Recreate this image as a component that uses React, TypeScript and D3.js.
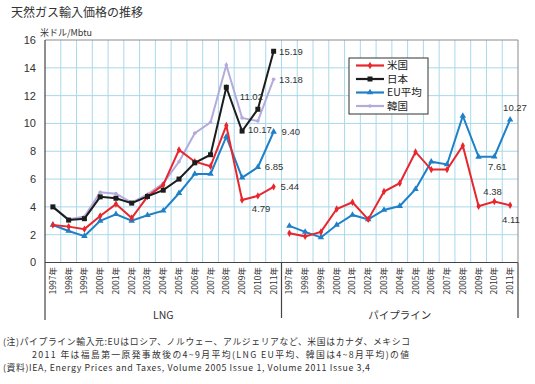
import React from "react";
import * as d3 from "d3";

const years = ["1997","1998","1999","2000","2001","2002","2003","2004","2005","2006","2007","2008","2009","2010","2011"];
const groups = ["LNG", "パイプライン"];
const yTicks = [0, 2, 4, 6, 8, 10, 12, 14, 16];

const lngUS = [2.7, 2.58, 2.4, 3.35, 4.2, 3.2, 4.74, 5.58, 8.1, 7.25, 6.92, 9.85, 4.5, 4.79, 5.44];
const lngJapan = [4.0, 3.05, 3.15, 4.72, 4.62, 4.27, 4.75, 5.2, 6.0, 7.17, 7.75, 12.6, 9.45, 11.02, 15.19];
const lngEU = [2.7, 2.27, 1.9, 3.0, 3.47, 3.0, 3.4, 3.73, 4.98, 6.37, 6.37, 9.05, 6.1, 6.85, 9.40];
const lngKorea = [4.0, 3.1, 3.3, 5.05, 4.95, 4.3, 4.9, 5.7, 7.25, 9.3, 10.08, 14.2, 10.4, 10.17, 13.18];

const pipeUS = [2.1, 1.88, 2.2, 3.85, 4.33, 3.1, 5.1, 5.7, 7.95, 6.68, 6.68, 8.4, 4.05, 4.38, 4.11];
const pipeEU = [2.63, 2.2, 1.8, 2.7, 3.42, 3.1, 3.78, 4.06, 5.27, 7.25, 7.05, 10.54, 7.6, 7.61, 10.27];

const seriesNames = ["米国", "日本", "EU平均", "韓国"];
const seriesColors = ["#e8262d", "#1c1c1c", "#1f80c8", "#b4aadc"];

const W = 535, H = 384;
const left = 45, right = 518, top = 40, bottom = 262.5;

const keys = groups.flatMap((g) => years.map((y) => g + "|" + y));
const x = d3.scaleBand<string>().domain(keys).range([left, right]);
const y = d3.scaleLinear().domain([0, 16]).range([bottom, top]);
const cx = (g: string, yr: string) => (x(g + "|" + yr) as number) + x.bandwidth() / 2;

const line = d3.line<[number, number]>().x((d) => d[0]).y((d) => d[1]);

function pts(g: string, vals: number[]): [number, number][] {
  return vals.map((v, i) => [cx(g, years[i]), y(v)]);
}

function Marker({ kind, px, py, color }: { kind: number; px: number; py: number; color: string }) {
  if (kind === 1) return <rect x={px - 2.5} y={py - 2.5} width={5} height={5} fill={color} />;
  if (kind === 2) {
    const p = d3.symbol().type(d3.symbolTriangle).size(18)();
    return <path d={p as string} transform={`translate(${px},${py})`} fill={color} />;
  }
  if (kind === 0) {
    const p = d3.symbol().type(d3.symbolDiamond).size(16)();
    return <path d={p as string} transform={`translate(${px},${py})`} fill={color} />;
  }
  return <circle cx={px} cy={py} r={1.8} fill={color} />;
}

function Series({ g, vals, idx }: { g: string; vals: number[]; idx: number }) {
  const p = pts(g, vals);
  const c = seriesColors[idx];
  return (
    <g>
      <path d={line(p) as string} fill="none" stroke={c} strokeWidth={2} strokeLinejoin="miter" />
      {p.map((q, i) => (
        <Marker key={i} kind={idx} px={q[0]} py={q[1]} color={c} />
      ))}
    </g>
  );
}

const valueLabels: { text: string; g: string; yr: string; v: number; dx: number; dy: number }[] = [
  { text: "15.19", g: "LNG", yr: "2011", v: 15.19, dx: 5.5, dy: 0 },
  { text: "13.18", g: "LNG", yr: "2011", v: 13.18, dx: 5.5, dy: 0 },
  { text: "11.02", g: "LNG", yr: "2010", v: 11.02, dx: -18, dy: -13 },
  { text: "10.17", g: "LNG", yr: "2009", v: 9.45, dx: 6, dy: -1.5 },
  { text: "9.40", g: "LNG", yr: "2011", v: 9.4, dx: 8, dy: 0 },
  { text: "6.85", g: "LNG", yr: "2010", v: 6.85, dx: 7, dy: -1 },
  { text: "5.44", g: "LNG", yr: "2011", v: 5.44, dx: 7, dy: 0 },
  { text: "4.79", g: "LNG", yr: "2010", v: 4.79, dx: -6, dy: 13 },
  { text: "10.27", g: "パイプライン", yr: "2011", v: 10.27, dx: -7, dy: -12 },
  { text: "7.61", g: "パイプライン", yr: "2009", v: 7.61, dx: 9.5, dy: 10 },
  { text: "4.38", g: "パイプライン", yr: "2010", v: 4.38, dx: -11, dy: -10 },
  { text: "4.11", g: "パイプライン", yr: "2011", v: 4.11, dx: -8, dy: 14 },
];

const notes = [
  "(注)パイプライン輸入元:EUはロシア、ノルウェー、アルジェリアなど、米国はカナダ、メキシコ",
  "2011 年は福島第一原発事故後の4~9月平均(LNG EU平均、韓国は4~8月平均)の値",
  "(資料)IEA, Energy Prices and Taxes, Volume 2005 Issue 1, Volume 2011 Issue 3,4",
];

const jp = "'Noto Sans CJK JP', 'Liberation Sans', sans-serif";
const sans = "'Liberation Sans', Arial, sans-serif";

export default function App() {
  const gridColor = "#a9d9ea";
  const sep = left + x.step() * years.length;
  return (
    <svg width={W} height={H} style={{ position: "absolute", left: 0, top: 0, background: "#fff" }}>
      <rect x={0} y={0} width={W} height={H} fill="#fff" />
      <text x={11} y={17} fontSize={12} fontFamily={jp} fill="#333">天然ガス輸入価格の推移</text>
      <text x={40} y={35.5} fontSize={9} fontFamily={jp} fill="#333">米ドル/Mbtu</text>

      {/* grid */}
      {yTicks.slice(1, -1).map((t) => (
        <line key={t} x1={left} x2={right} y1={y(t)} y2={y(t)} stroke={gridColor} strokeWidth={1} />
      ))}
      {keys.slice(1).map((k) => (
        <line key={k} x1={x(k) as number} x2={x(k) as number} y1={top} y2={bottom} stroke={gridColor} strokeWidth={1} />
      ))}
      <line x1={left} x2={right} y1={top} y2={top} stroke="#8a8a8a" strokeWidth={1} />
      <line x1={right} x2={right} y1={top} y2={bottom} stroke="#8a8a8a" strokeWidth={1} />

      {/* axes */}
      <line x1={left} x2={left} y1={top} y2={320} stroke="#444" strokeWidth={1.2} />
      <line x1={left} x2={right} y1={bottom} y2={bottom} stroke="#444" strokeWidth={1.2} />
      <line x1={sep} x2={sep} y1={bottom} y2={318} stroke="#444" strokeWidth={1.2} />
      <line x1={right} x2={right} y1={bottom} y2={318} stroke="#444" strokeWidth={1.2} />
      {yTicks.map((t) => (
        <text key={t} x={36} y={y(t)} dy="0.36em" textAnchor="end" fontSize={11} fontFamily={sans} fill="#333">{t}</text>
      ))}
      {keys.map((k) => {
        const yr = k.split("|")[1];
        const px = (x(k) as number) + x.bandwidth() / 2;
        return (
          <text key={k} transform={`translate(${px},267) rotate(-90)`} textAnchor="end" dy="0.35em" fontSize={8.5} fontFamily={jp} fill="#333">
            {yr}年
          </text>
        );
      })}
      {groups.map((g) => {
        const a = x(g + "|" + years[0]) as number;
        const b = (x(g + "|" + years[years.length - 1]) as number) + x.bandwidth();
        return (
          <text key={g} x={(a + b) / 2} y={319} textAnchor="middle" fontSize={10.5} fontFamily={jp} fill="#333">{g}</text>
        );
      })}

      {/* series */}
      <Series g="LNG" vals={lngKorea} idx={3} />
      <Series g="LNG" vals={lngEU} idx={2} />
      <Series g="LNG" vals={lngUS} idx={0} />
      <Series g="LNG" vals={lngJapan} idx={1} />
      <Series g="パイプライン" vals={pipeEU} idx={2} />
      <Series g="パイプライン" vals={pipeUS} idx={0} />

      {valueLabels.map((l, i) => (
        <text key={i} x={cx(l.g, l.yr) + l.dx} y={y(l.v) + l.dy} dy="0.35em" fontSize={9.5} fontFamily={sans} fill="#333">{l.text}</text>
      ))}

      {/* legend */}
      <rect x={349} y={58} width={79} height={56} fill="#fff" stroke="#333" strokeWidth={1} />
      {seriesNames.map((n, i) => {
        const ly = 65.5 + i * 13.5;
        return (
          <g key={n}>
            <line x1={356} x2={384} y1={ly} y2={ly} stroke={seriesColors[i]} strokeWidth={2.2} />
            <Marker kind={i} px={370} py={ly} color={seriesColors[i]} />
            <text x={387} y={ly} dy="0.36em" fontSize={10.5} fontFamily={jp} fill="#222">{n}</text>
          </g>
        );
      })}

      {/* notes */}
      <text x={3} y={345} fontSize={8.8} fontFamily={jp} fill="#333" textLength={407} lengthAdjust="spacing">{notes[0]}</text>
      <text x={32} y={358} fontSize={8.8} fontFamily={jp} fill="#333" textLength={377} lengthAdjust="spacing">{notes[1]}</text>
      <text x={3} y={371} fontSize={8.8} fontFamily={jp} fill="#333" textLength={367} lengthAdjust="spacing">{notes[2]}</text>
    </svg>
  );
}
